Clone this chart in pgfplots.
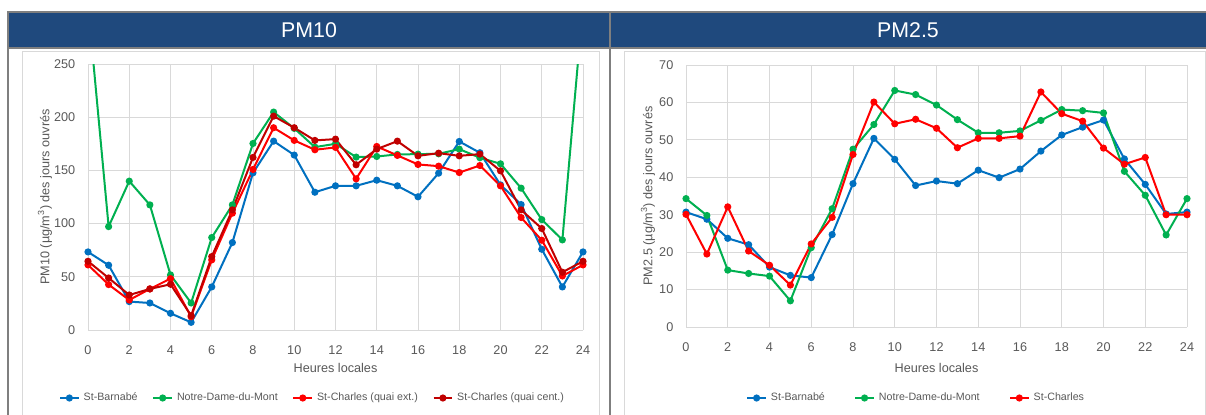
\documentclass[border=0pt]{standalone}
\usepackage{fontspec}
\setmainfont{Liberation Sans}
\usepackage{pgfplots}
\usepackage{pgfplotstable}
\pgfplotsset{compat=1.18}
\definecolor{hdr}{HTML}{1F497D}
\definecolor{bord}{HTML}{7F7F7F}
\definecolor{frm}{HTML}{D9D9D9}
\definecolor{gridc}{HTML}{D9D9D9}
\definecolor{tickc}{HTML}{595959}
\definecolor{cblue}{HTML}{0070C0}
\definecolor{cgreen}{HTML}{00B050}
\definecolor{cred}{HTML}{FF0000}
\definecolor{cdred}{HTML}{C00000}

\pgfplotstableread{
h  bar   ndm   sce   scc
0  73.4  306   61.2  64.6
1  60.9  97.2  42.7  48.9
2  26.7  139.9 28.2  32.9
3  25.4  117.6 38.6  38.6
4  15.7  51.8  48.3  43.0
5  7.2   25.4  12.5  13.5
6  40.5  86.9  65.9  69.0
7  82.2  117.6 109.8 112.9
8  147.7 175.3 150.9 162.2
9  177.5 204.8 190.1 201.0
10 164.4 189.5 178.2 190.1
11 129.5 171.9 169.4 178.2
12 135.5 175.0 171.6 179.4
13 135.5 162.5 142.1 155.3
14 140.8 163.1 172.5 170.0
15 135.5 165.0 164.1 177.5
16 125.2 165.3 155.6 163.7
17 147.4 165.6 154.0 166.2
18 177.2 170.0 148.0 163.7
19 166.6 161.9 154.6 165.3
20 136.4 156.2 135.5 149.6
21 117.9 133.3 105.7 112.9
22 75.9  103.8 84.4  95.4
23 40.5  84.7  50.8  54.3
24 73.4  306   61.2  64.6
}\pmten

\pgfplotstableread{
h  bar  ndm  sc
0  30.7 34.3 30.1
1  28.8 29.8 19.5
2  23.7 15.2 32.1
3  22.0 14.3 20.3
4  16.0 13.6 16.5
5  13.8 7.0  11.2
6  13.2 21.2 22.2
7  24.7 31.6 29.3
8  38.3 47.5 46.1
9  50.4 54.1 60.1
10 44.8 63.2 54.3
11 37.8 62.1 55.5
12 39.0 59.3 53.1
13 38.3 55.4 47.9
14 41.9 51.9 50.4
15 39.9 51.9 50.4
16 42.2 52.4 51.0
17 47.0 55.2 62.8
18 51.3 58.1 57.0
19 53.4 57.8 55.0
20 55.3 57.2 47.8
21 44.9 41.6 43.5
22 38.1 35.2 45.3
23 30.2 24.6 30.0
24 30.7 34.3 30.0
}\pmtwofive

\pgfplotsset{
  myaxis/.style={
    scale only axis,
    xmin=0, xmax=24,
    xtick={0,2,...,24},
    grid=major,
    grid style={gridc, line width=0.75pt},
    axis line style={draw=none},
    major tick length=0pt,
    tick label style={text=tickc, font=\fontsize{9.5}{11}\selectfont},
    /pgf/number format/assume math mode=true,
    xticklabel style={yshift=-8pt},
    yticklabel style={xshift=-6pt},
    label style={text=tickc, font=\fontsize{9.5}{11}\selectfont},
    xlabel={Heures locales},
    every axis plot/.append style={line width=1.5pt, mark=*, mark size=1.9pt},
    legend style={draw=none, fill=none, font=\fontsize{8}{10}\selectfont, text=tickc,
      inner sep=0pt, /tikz/every odd column/.append style={column sep=1pt}},
    legend columns=-1,
    legend image code/.code={\draw[mark repeat=2,mark phase=2] plot coordinates {(0pt,0pt) (7pt,0pt) (14pt,0pt)};},
  }
}

\begin{document}
\begin{tikzpicture}
\begin{scope}[x=0.75pt,y=-0.75pt]
  \path[use as bounding box] (0,0) rectangle (1206,414);
  \clip (0,0) rectangle (1206,414);
  \fill[white] (0,0) rectangle (1206,414);
  % chart frames
  \draw[frm, line width=0.75pt] (22,51) rectangle (599,430);
  \draw[frm, line width=0.75pt] (624,51) rectangle (1205,430);
  % header band
  \fill[hdr] (8,12) rectangle (1210,47.5);
  \draw[bord, line width=1.5pt] (8,430) -- (8,12) -- (1210,12);
  \draw[bord, line width=1.5pt] (8,47.5) -- (1210,47.5);
  \draw[bord, line width=1.5pt] (610,12) -- (610,430);
  \node[white, font=\fontsize{16}{19}\selectfont] at (309,30) {PM10};
  \node[white, font=\fontsize{16}{19}\selectfont] at (908,30) {PM2.5};
\end{scope}

\begin{axis}[myaxis,
  at={(66pt,-247.5pt)}, anchor=south west,
  width=371.25pt, height=199.5pt,
  ymin=0, ymax=250, ytick={0,50,...,250},
  ylabel={PM10 (µg/m\textsuperscript{3}) des jours ouvrés},
  xlabel style={at={(axis description cs:0.5,0)}, anchor=center, yshift=-28.5pt},
  ylabel style={at={([xshift=-32.25pt]axis description cs:0,0.5)}, anchor=center},
  legend style={at={(axis description cs:0.5,0)}, anchor=center, xshift=-17pt, yshift=-51pt,
     /tikz/every even column/.append style={column sep=9pt}},
]
\addplot[cblue] table[x=h,y=bar] {\pmten};
\addlegendentry{St-Barnabé}
\addplot[cgreen] table[x=h,y=ndm] {\pmten};
\addlegendentry{Notre-Dame-du-Mont}
\addplot[cred] table[x=h,y=sce] {\pmten};
\addlegendentry{St-Charles (quai ext.)}
\addplot[cdred] table[x=h,y=scc] {\pmten};
\addlegendentry{St-Charles (quai cent.)}
\end{axis}

\begin{axis}[myaxis,
  at={(514.5pt,-245.25pt)}, anchor=south west,
  width=375.75pt, height=196.5pt,
  ymin=0, ymax=70, ytick={0,10,...,70},
  ylabel={PM2.5 (µg/m\textsuperscript{3}) des jours ouvrés},
  xlabel style={at={(axis description cs:0.5,0)}, anchor=center, yshift=-30.75pt},
  ylabel style={at={([xshift=-28.5pt]axis description cs:0,0.5)}, anchor=center},
  legend style={at={(axis description cs:0.5,0)}, anchor=center, xshift=-15pt, yshift=-53.25pt,
     /tikz/every even column/.append style={column sep=20pt}},
]
\addplot[cblue] table[x=h,y=bar] {\pmtwofive};
\addlegendentry{St-Barnabé}
\addplot[cgreen] table[x=h,y=ndm] {\pmtwofive};
\addlegendentry{Notre-Dame-du-Mont}
\addplot[cred] table[x=h,y=sc] {\pmtwofive};
\addlegendentry{St-Charles}
\end{axis}
\end{tikzpicture}
\end{document}
